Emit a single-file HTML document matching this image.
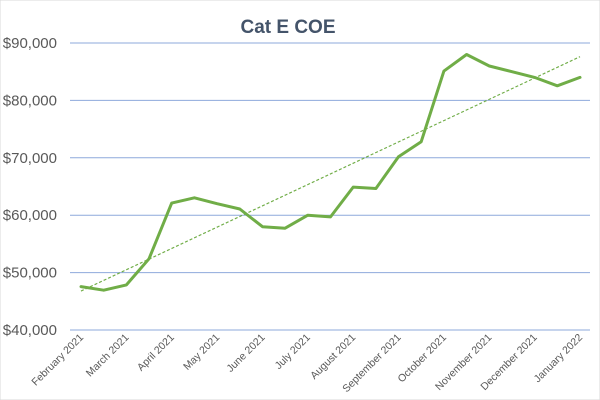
<!DOCTYPE html>
<html><head><meta charset="utf-8"><style>
body{margin:0;background:#fff}
svg{display:block;font-family:"Liberation Sans",sans-serif}
</style></head><body>
<svg id="chart" width="600" height="400">
<rect width="600" height="400" fill="#fff" stroke="#d9d9d9"/>
<text x="288" y="33" text-anchor="middle" font-size="19" font-weight="bold" fill="#44546a">Cat E COE</text>
<g id="grid"></g><g id="ylabels"></g><g id="xlabels"></g><g id="series"></g>
</svg>
<script>
const categories=["February 2021","March 2021","April 2021","May 2021","June 2021","July 2021","August 2021","September 2021","October 2021","November 2021","December 2021","January 2022"];
const values=[47560,46930,47850,52400,62100,63040,62000,61080,58000,57730,60000,59700,64900,64650,70200,72800,85100,88000,86000,85000,84000,82550,84000];
const yTicks=[40000,50000,60000,70000,80000,90000];
const yTickLabels=["$40,000","$50,000","$60,000","$70,000","$80,000","$90,000"];
const NS="http://www.w3.org/2000/svg";
const x0=81,x1=580,yMin=40000,yMax=90000,py0=330,py1=43,gl=70,gr=590;
const n=values.length;
const xs=i=>x0+(x1-x0)*i/(n-1);
const ys=v=>py0-(v-yMin)/(yMax-yMin)*(py0-py1);
function mk(t,a,p){const e=document.createElementNS(NS,t);for(const k in a)e.setAttribute(k,a[k]);p.appendChild(e);return e;}
const grid=document.getElementById('grid'),yl=document.getElementById('ylabels'),xl=document.getElementById('xlabels'),se=document.getElementById('series');
yTicks.forEach((v,i)=>{
 const l=mk('line',{x1:gl,x2:gr,y1:ys(v),y2:ys(v),stroke:'#8ea9db','stroke-width':1},grid);
 
 
 const t=mk('text',{x:57,y:ys(v)+5,'text-anchor':'end','font-size':15,fill:'#595959'},yl);
 t.textContent=yTickLabels[i];
 
 
});
categories.forEach((c,i)=>{
 const x=xs(i*2),y=338;
 const t=mk('text',{x:x+3,y:y,'text-anchor':'end','font-size':10.5,fill:'#595959',transform:`rotate(-45 ${x+3} ${y})`},xl);
 t.textContent=c;
 
 
});
const pts=values.map((v,i)=>xs(i).toFixed(1)+','+ys(v).toFixed(1)).join(' ');
// trendline via linear regression
let sx=0,sy=0,sxx=0,sxy=0;values.forEach((v,i)=>{sx+=i;sy+=v;sxx+=i*i;sxy+=i*v;});
const b=(n*sxy-sx*sy)/(n*sxx-sx*sx),a=(sy-b*sx)/n;
const tr=mk('line',{x1:xs(0),y1:ys(a),x2:xs(n-1),y2:ys(a+b*(n-1)),stroke:'#70ad47','stroke-width':1.2,'stroke-dasharray':'3,2'},se);


const pl=mk('polyline',{points:pts,fill:'none',stroke:'#70ad47','stroke-width':3,'stroke-linejoin':'round','stroke-linecap':'round'},se);


</script>
</body></html>
